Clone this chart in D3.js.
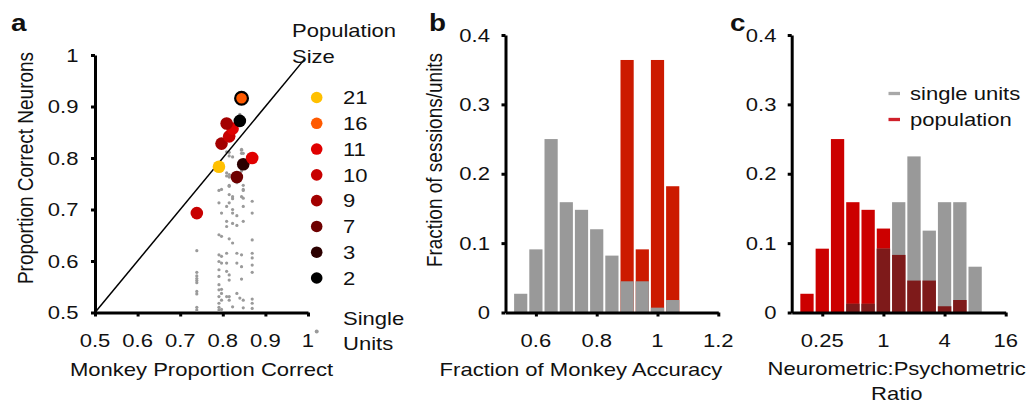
<!DOCTYPE html>
<html>
<head>
<meta charset="utf-8">
<script src="https://cdn.jsdelivr.net/npm/d3@7"></script>
<style>
  body { margin: 0; background: #fff; }
  text { font-family: "Liberation Sans", Arial, sans-serif; fill: #111; }
</style>
</head>
<body>
<div id="chart"></div>
<script>
// ---- data ----
// panel a: population decoders, one per session
const popSizes = [21, 16, 11, 10, 9, 7, 3, 2];
const popColors = ["#ffc000", "#ff5a00", "#e00000", "#c80000", "#a30000", "#6e0000", "#2c0000", "#000000"];
const sessMonkey  = [0.844, 0.840, 0.809, 0.823, 0.815, 0.797, 0.869, 0.848, 0.791, 0.833, 0.739];
const sessNeurons = [0.916, 0.872, 0.867, 0.857, 0.842, 0.828, 0.800, 0.788, 0.783, 0.763, 0.693];
const sessSize    = [16, 2, 9, 11, 10, 9, 11, 3, 21, 7, 10];

// panel a: single units, grouped by the session's monkey accuracy
const unitColumns = [0.739, 0.791, 0.797, 0.809, 0.815, 0.823, 0.833, 0.840, 0.844, 0.848, 0.869];
const unitCorrect = [
  [0.620, 0.578, 0.571, 0.566, 0.562, 0.558, 0.541, 0.536, 0.510, 0.505],
  [0.737, 0.713, 0.651, 0.612, 0.599, 0.583, 0.570, 0.554, 0.544, 0.531, 0.518, 0.510, 0.505],
  [0.739, 0.693, 0.648, 0.609, 0.596, 0.545, 0.537, 0.524, 0.506],
  [0.875, 0.812, 0.771, 0.765, 0.706, 0.677, 0.667, 0.615, 0.596, 0.580, 0.531],
  [0.811, 0.804, 0.768, 0.763, 0.747, 0.745, 0.729, 0.713, 0.643, 0.573, 0.563, 0.531, 0.524],
  [0.802, 0.725, 0.721, 0.700, 0.693, 0.673, 0.635, 0.511],
  [0.752, 0.688, 0.669, 0.615, 0.596, 0.537],
  [0.885, 0.528],
  [0.817, 0.815, 0.809, 0.775, 0.725, 0.612, 0.589, 0.565],
  [0.809, 0.747, 0.739, 0.737, 0.722, 0.706, 0.677, 0.524, 0.509],
  [0.716, 0.693, 0.641, 0.615, 0.606, 0.592, 0.578, 0.526, 0.518, 0.508]
];

// panel b: fraction of monkey accuracy (bin centres, width 0.05)
const accBins   = [0.55, 0.60, 0.65, 0.70, 0.75, 0.80, 0.85, 0.90, 0.95, 1.00, 1.05];
const accUnits  = [0.027, 0.091, 0.250, 0.159, 0.148, 0.120, 0.082, 0.045, 0.045, 0.007, 0.018];
const accPop    = [0, 0, 0, 0, 0, 0, 0, 0.364, 0.091, 0.364, 0.182];

// panel c: neurometric:psychometric ratio (log2 bin centres, width 0.5)
const ratioBins  = [-2.5, -2, -1.5, -1, -0.5, 0, 0.5, 1, 1.5, 2, 2.5, 3];
const ratioPop   = [0.027, 0.092, 0.250, 0.159, 0.148, 0.121, 0.083, 0.046, 0.046, 0.009, 0.018, 0];
const ratioUnits = [0, 0, 0, 0.0125, 0.0125, 0.092, 0.159, 0.225, 0.118, 0.159, 0.159, 0.066];

const SX = 1.16; // figure text is stretched horizontally

const svg = d3.select("#chart").append("svg")
    .attr("width", 1029)
    .attr("height", 405);

// text helper, with the horizontal stretch
function label(x, y, str, opts = {}) {
    const t = svg.append("text")
        .attr("transform", `translate(${x},${y}) scale(${SX},1)${opts.rotate ? " rotate(-90)" : ""}`)
        .attr("text-anchor", opts.anchor || "start")
        .style("font-size", (opts.size || 19) + "px")
        .text(str);
    if (opts.bold) t.style("font-weight", "bold");
    if (opts.dy) t.attr("dy", opts.dy);
    return t;
}

function styleAxis(g) {
    g.select(".domain").attr("stroke", "#000").attr("stroke-width", 3);
    g.selectAll(".tick line").attr("stroke", "#000").attr("stroke-width", 3);
    g.selectAll(".tick text").remove();
}

// ================= panel a =================
const xa = d3.scaleLinear().domain([0.5, 1]).range([95, 308]);
const ya = d3.scaleLinear().domain([0.5, 1]).range([312.5, 55]);
const aTicks = [0.5, 0.6, 0.7, 0.8, 0.9, 1];

svg.append("g").attr("transform", "translate(0,312.5)")
    .call(d3.axisBottom(xa).tickValues(aTicks).tickSize(4).tickSizeOuter(0))
    .call(styleAxis);
svg.append("g").attr("transform", "translate(95,0)")
    .call(d3.axisLeft(ya).tickValues(aTicks).tickSize(4).tickSizeOuter(0))
    .call(styleAxis);

aTicks.forEach(v => {
    const s = v === 1 ? "1" : d3.format(".1f")(v);
    label(xa(v), 346.5, s, {anchor: "middle"});
    label(78.5, ya(v), s, {anchor: "end", dy: "0.35em"});
});

// single units
const units = [];
unitColumns.forEach((c, i) => unitCorrect[i].forEach(v => units.push([c, v])));
svg.append("g").selectAll("circle")
    .data(units)
    .enter()
    .append("circle")
    .attr("cx", d => xa(d[0]))
    .attr("cy", d => ya(d[1]))
    .attr("r", 1.6)
    .attr("fill", "#9a9a9a");

// unity line
svg.append("line")
    .attr("x1", xa(0.5)).attr("y1", ya(0.5))
    .attr("x2", xa(0.993)).attr("y2", ya(0.993))
    .attr("stroke", "#000").attr("stroke-width", 1.5);

// populations
const colorOf = d3.scaleOrdinal().domain(popSizes).range(popColors);
const sess = sessMonkey.map((m, i) => ({m: m, n: sessNeurons[i], size: sessSize[i]}));
svg.append("g").selectAll("circle")
    .data(sess.slice().reverse())
    .enter()
    .append("circle")
    .attr("cx", d => xa(d.m))
    .attr("cy", d => ya(d.n))
    .attr("r", d => d.size === 16 ? 6.4 : 6.3)
    .attr("fill", d => colorOf(d.size))
    .attr("stroke", d => d.size === 16 ? "#000" : "none")
    .attr("stroke-width", 2.2);

// legend
const legY = d3.scaleLinear().domain([0, 7]).range([97.5, 278]);
popSizes.forEach((s, i) => {
    svg.append("circle").attr("cx", 316.7).attr("cy", legY(i)).attr("r", 5.8).attr("fill", popColors[i]);
    label(343, legY(i), String(s), {dy: "0.35em"});
});
label(292, 37, "Population");
label(292, 63, "Size");
svg.append("circle").attr("cx", 316.7).attr("cy", 331.5).attr("r", 2).attr("fill", "#9a9a9a");
label(343, 325, "Single");
label(343, 350, "Units");

label(201.5, 376, "Monkey Proportion Correct", {anchor: "middle"});
label(32.5, 168, "Proportion Correct Neurons", {anchor: "middle", rotate: true});
label(11, 30.5, "a", {bold: true, size: 24});

// ================= panel b =================
const xb = d3.scaleLinear().domain([0.5, 1.2]).range([505.5, 718.3]);
const yb = d3.scaleLinear().domain([0, 0.4]).range([312.5, 35]);
const fracTicks = [0, 0.1, 0.2, 0.3, 0.4];

const bData = accBins.map((c, i) => ({c: c, unit: accUnits[i], pop: accPop[i]}));
const bw = 0.025;
svg.append("g").selectAll("rect")
    .data(bData.filter(d => d.pop > 0))
    .enter()
    .append("rect")
    .attr("x", d => xb(d.c - bw) + 1)
    .attr("width", d => xb(d.c + bw) - xb(d.c - bw) - 2)
    .attr("y", d => yb(d.pop))
    .attr("height", d => yb(0) - yb(d.pop))
    .attr("fill", "#cc1a00");
svg.append("g").selectAll("rect")
    .data(bData)
    .enter()
    .append("rect")
    .attr("x", d => xb(d.c - bw) + 1)
    .attr("width", d => xb(d.c + bw) - xb(d.c - bw) - 2)
    .attr("y", d => yb(d.unit))
    .attr("height", d => yb(0) - yb(d.unit))
    .attr("fill", "#999999");

svg.append("g").attr("transform", "translate(0,312.5)")
    .call(d3.axisBottom(xb).tickValues([0.6, 0.8, 1, 1.2]).tickSize(4).tickSizeOuter(0))
    .call(styleAxis);
svg.append("g").attr("transform", "translate(505.5,0)")
    .call(d3.axisLeft(yb).tickValues(fracTicks).tickSize(4).tickSizeOuter(0))
    .call(styleAxis);

[0.6, 0.8, 1, 1.2].forEach(v => label(xb(v), 346.5, v === 1 ? "1" : d3.format(".1f")(v), {anchor: "middle"}));
fracTicks.forEach(v => label(490, yb(v), v === 0 ? "0" : d3.format(".1f")(v), {anchor: "end", dy: "0.35em"}));

label(581, 376, "Fraction of Monkey Accuracy", {anchor: "middle"});
label(442, 160, "Fraction of sessions/units", {anchor: "middle", rotate: true});
label(429, 30.5, "b", {bold: true, size: 24});

// ================= panel c =================
const xc = d3.scaleLog().base(2).domain([1 / 8, 16]).range([791.7, 1005.7]);
const yc = d3.scaleLinear().domain([0, 0.4]).range([312.5, 35]);

const cData = ratioBins.map((c, i) => ({c: c, pop: ratioPop[i], unit: ratioUnits[i]}));
const left = d => xc(Math.pow(2, d.c - 0.25)) + 1;
const wid = d => xc(Math.pow(2, d.c + 0.25)) - xc(Math.pow(2, d.c - 0.25)) - 2;
svg.append("g").selectAll("rect")
    .data(cData)
    .enter()
    .append("rect")
    .attr("x", left).attr("width", wid)
    .attr("y", d => yc(d.pop))
    .attr("height", d => yc(0) - yc(d.pop))
    .attr("fill", "#cc0000");
svg.append("g").selectAll("rect")
    .data(cData)
    .enter()
    .append("rect")
    .attr("x", left).attr("width", wid)
    .attr("y", d => yc(d.unit))
    .attr("height", d => yc(0) - yc(d.unit))
    .attr("fill", "#999999");
// overlap of both histograms
svg.append("g").selectAll("rect")
    .data(cData)
    .enter()
    .append("rect")
    .attr("x", left).attr("width", wid)
    .attr("y", d => yc(Math.min(d.pop, d.unit)))
    .attr("height", d => yc(0) - yc(Math.min(d.pop, d.unit)))
    .attr("fill", "#7e1a1a");

const ratioTicks = [0.25, 1, 4, 16];
svg.append("g").attr("transform", "translate(0,312.5)")
    .call(d3.axisBottom(xc).tickValues(ratioTicks).tickSize(4).tickSizeOuter(0))
    .call(styleAxis);
svg.append("g").attr("transform", "translate(791.7,0)")
    .call(d3.axisLeft(yc).tickValues(fracTicks).tickSize(4).tickSizeOuter(0))
    .call(styleAxis);

ratioTicks.forEach(v => label(xc(v), 346.5, String(v), {anchor: "middle"}));
fracTicks.forEach(v => label(776.5, yc(v), v === 0 ? "0" : d3.format(".1f")(v), {anchor: "end", dy: "0.35em"}));

// legend
const legendItems = [["single units", "#a8a8a8"], ["population", "#d0202a"]];
legendItems.forEach((d, i) => {
    const y = 93.5 + i * 26;
    svg.append("line").attr("x1", 888.5).attr("x2", 900).attr("y1", y).attr("y2", y)
        .attr("stroke", d[1]).attr("stroke-width", 3.3);
    label(910, y, d[0], {dy: "0.35em"});
});

label(896.7, 375, "Neurometric:Psychometric", {anchor: "middle"});
label(896.7, 400, "Ratio", {anchor: "middle"});
label(730, 30.5, "c", {bold: true, size: 24});
</script>
</body>
</html>
